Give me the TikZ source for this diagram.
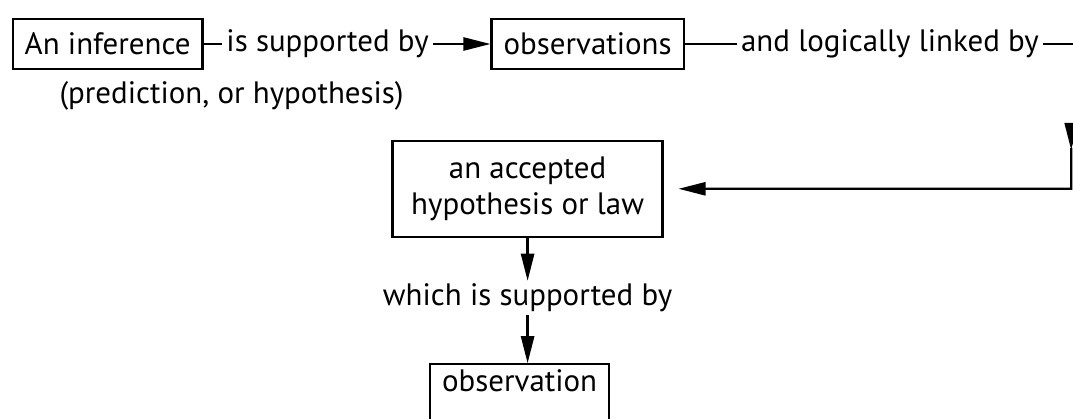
\documentclass[tikz,border=0pt]{standalone}
\usepackage{fontspec}
\setmainfont{PT Sans}
\usetikzlibrary{positioning, arrows.meta}

\begin{document}
\begin{tikzpicture}[node distance=2cm, auto, every node/.style={font=\fontsize{22}{26}\selectfont}]
    % styles
    \tikzstyle{block} = [rectangle, draw, line width=1.6pt, inner xsep=0.3cm, minimum height=1.25cm]
    \tikzstyle{word} = [inner sep=3pt]
    \tikzstyle{line} = [draw, line width=1.6pt, -{Triangle[length=0.68cm, width=0.33cm]}]
    \tikzstyle{bare} = [draw, line width=1.6pt]

    \useasboundingbox (0,0) rectangle (26.825,-10.45);

    % first row
    \node [block] (inf) at (2.69,-1.1) {An inference};
    \node [word, right of=inf, xshift=3.5cm] (sup) {is supported by};
    \node [block, right of=sup, xshift=4.5cm] (obs) {observations};
    \node [word, right of=obs, xshift=5.56cm] (lnk) {and logically linked by};
    \node [word, below of=inf, xshift=3.1cm, yshift=0.7cm] (pred) {(prediction, or hypothesis)};
    \coordinate (cut) at (27.2,-1.1);

    % the accepted law and its support
    \node [block, below of=obs, xshift=-1.5cm, yshift=-1.62cm, minimum width=6.75cm, minimum height=2.4cm, align=center] (acc) {an accepted\\hypothesis or law};
    \node [word, below of=acc, yshift=-0.73cm, inner sep=2pt] (which) {which is supported by};
    \node [block, below=1.2cm of which, xshift=-0.2cm, text height=0.55cm, text depth=1.5cm] (obs2) {observation};

    % right edge
    \coordinate (top) at (26.78,-3.15);
    \coordinate (mid) at (26.78,-3.7);
    \coordinate (corner) at (26.78,-4.72);

    % connexions
    \path [bare] (inf) -- (sup);
    \path [line] (sup) -- (obs);
    \path [bare] (obs) -- (lnk);
    \path [bare] (lnk) -- (cut);
    \path [line] (top) -- ++(0,-0.6);
    \path [line, shorten >=0.37cm] (mid) -- (corner) -- (acc);
    \path [line] (acc) -- (which);
    \path [line] (which) -- (which |- obs2.north);
\end{tikzpicture}
\end{document}
